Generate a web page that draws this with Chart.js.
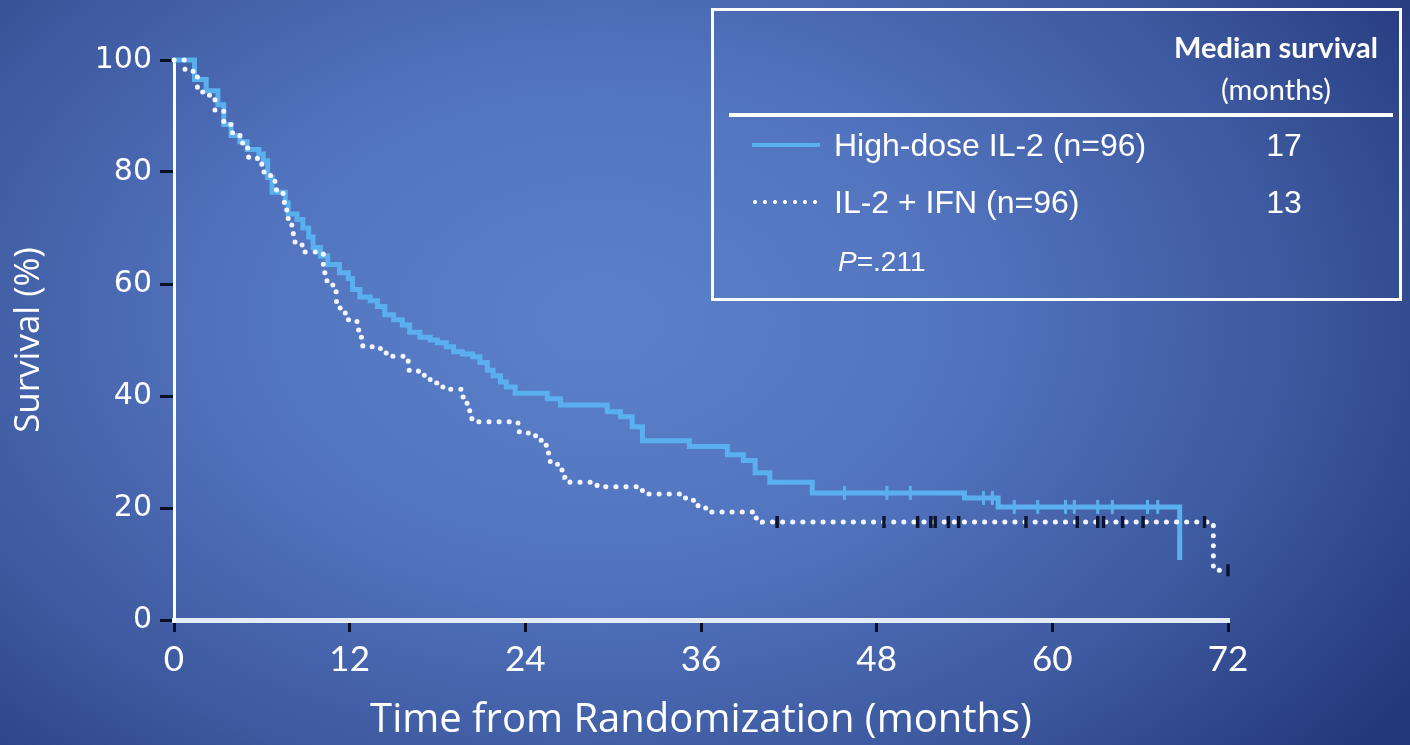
<!DOCTYPE html>
<html><head><meta charset="utf-8">
<script src="https://cdn.jsdelivr.net/npm/chart.js@4.4.1/dist/chart.umd.min.js"></script>
<style>
html,body{margin:0;padding:0;background:#2c4186;overflow:hidden}
#wrap{position:relative;width:1410px;height:745px}
#c{position:absolute;left:0;top:0}
.t{position:absolute;color:#fff;white-space:nowrap;font-family:"Liberation Sans",Arial,sans-serif;line-height:1}
.cc{transform:translate(-50%,-50%)}
.lc{transform:translate(0,-50%)}
#box{position:absolute;left:711px;top:8px;width:685px;height:287px;border:3px solid #fff}
#rule{position:absolute;left:729px;top:113px;width:664px;height:4px;background:#fff}
#s1{position:absolute;left:752px;top:143px;width:68px;height:4px;background:#5ab0ee}
#s2{position:absolute;left:750px;top:199px;width:72px;height:6px;background:radial-gradient(circle,#fff 1.7px,transparent 2.3px) 0 0/10px 6px repeat-x}
</style></head>
<body><div id="wrap">
<canvas id="c" width="1410" height="745"></canvas>
<div id="box"></div>
<div class="t cc" style="left:1276px;top:46px;font-family:Lato,sans-serif;font-weight:bold;font-size:29px">Median survival</div>
<div class="t cc" style="left:1276px;top:88px;font-family:Lato,sans-serif;font-size:29px">(months)</div>
<div id="rule"></div>
<div id="s1"></div>
<div class="t lc" style="left:834px;top:145px;font-size:32px">High-dose IL-2 (n=96)</div>
<div class="t cc" style="left:1284px;top:145px;font-size:32px">17</div>
<div id="s2"></div>
<div class="t lc" style="left:834px;top:202px;font-size:32px">IL-2 + IFN (n=96)</div>
<div class="t cc" style="left:1284px;top:202px;font-size:32px">13</div>
<div class="t lc" style="left:838px;top:262px;font-size:28px"><i>P</i>=.211</div>
</div>
<script>
// ---- data ----
const xTickLabels = [0, 12, 24, 36, 48, 60, 72];
const yTickLabels = [0, 20, 40, 60, 80, 100];
const hdTime = [0,1.4,2.2,3.0,3.4,3.9,4.5,5.0,5.8,6.1,6.4,6.7,7.6,7.8,8.4,8.8,9.2,9.5,10.0,10.5,11.3,11.9,12.2,12.7,13.4,13.9,14.4,15.0,15.6,16.1,16.8,17.5,18.0,18.6,19.1,19.7,20.4,20.9,21.4,21.8,22.3,22.7,23.3,25.5,26.4,29.6,30.5,31.3,32.0,35.2,37.8,38.9,39.7,40.7,43.6,54.0,56.3,68.7];
const hdSurv = [100,96.5,94.5,92,88.5,86.5,85.4,84,83.2,82,79,76.4,74.5,72.5,71.5,70,68.4,66.5,65,63.5,62,61,59,57.7,57,56,54.5,53.6,52.7,51.4,50.5,50,49.5,48.8,47.9,47.5,47,46,44.6,43.6,42.5,41.6,40.5,39.5,38.4,37.2,36.3,34.5,32,31,29.5,28.5,26.3,24.6,22.7,21.8,20.2,10.7];
const ifnTime = [0,0.75,1.6,2.3,2.8,3.4,4.0,4.5,5.0,5.1,5.7,6.0,6.6,6.9,7.0,7.45,7.7,7.8,8.05,8.15,8.75,10.2,10.45,10.85,11.1,11.35,11.7,12.5,12.8,12.9,14.1,14.6,16.0,16.7,17.1,17.5,18.0,18.5,19.7,19.9,20.2,20.35,23.5,24.2,24.8,25.2,25.5,25.7,26.2,26.7,27.05,28.9,31.6,32.0,34.8,35.45,35.8,36.4,39.7,40.2,71.0,72.0];
const ifnSurv = [100,98,94.3,93.7,91,88.5,86.6,85.2,84.3,82.5,81.6,80,79,78,76.3,74.6,72.9,71,69.3,67.5,65.7,62,60.2,58.6,56.8,55,53.6,51.8,50.5,48.8,47.7,47.1,44.6,44.1,43.2,42.3,41.6,41.2,39.8,38.7,37.1,35.4,33.6,32.9,32.1,31.2,29.8,28,26.8,25.5,24.6,23.8,23.2,22.5,21.8,21.4,20,19.3,18.2,17.5,8.9,8.9];
const hdCensor = [45.8,48.7,50.3,55.3,55.9,57.4,59.0,60.9,61.5,63.1,64.1,66.5,67.2];
const ifnCensor = [41.2,48.5,50.8,51.7,52.0,52.9,53.6,58.2,61.7,63.1,63.5,64.8,66.2,70.4,72.0];

function pts(t, s){ return t.map((x,i)=>({x:x,y:s[i]})); }
function survAt(t, s, x){ let v=s[0]; for(let i=0;i<t.length;i++){ if(t[i]<=x) v=s[i]; } return v; }
function censorPts(c, t, s){ return c.map(x=>({x:x,y:survAt(t,s,x)})); }

const bgPlugin = {id:'bg', beforeDraw(c){
  const ctx=c.ctx; ctx.save();
  ctx.translate(600,320); ctx.scale(1.45,1);
  const g=ctx.createRadialGradient(0,0,0,0,0,680);
  g.addColorStop(0,'#5b80c9'); g.addColorStop(0.35,'#5375c0'); g.addColorStop(0.7,'#3d599f'); g.addColorStop(1,'#24367a');
  ctx.fillStyle=g; ctx.fillRect(-600,-400,1200,900); ctx.restore();
}};

new Chart(document.getElementById('c'), {
  type:'line',
  data:{datasets:[
    {data:censorPts(ifnCensor,ifnTime,ifnSurv), showLine:false, pointStyle:'line', rotation:90, pointRadius:6, pointBorderWidth:3.5, borderColor:'#0c1430', backgroundColor:'#0c1430', order:0, clip:false},
    {data:pts(ifnTime,ifnSurv), stepped:'before', borderColor:'#f4f6ff', borderWidth:5, borderDash:[0.1,10], borderCapStyle:'round', pointRadius:0, fill:false, order:1, clip:false},
    {data:censorPts(hdCensor,hdTime,hdSurv), showLine:false, pointStyle:'line', rotation:90, pointRadius:7, pointBorderWidth:3, borderColor:'#5ab0ee', backgroundColor:'#5ab0ee', order:2, clip:false},
    {data:pts(hdTime,hdSurv), stepped:'before', borderColor:'#5ab0ee', borderWidth:5, pointRadius:0, fill:false, order:3, clip:false}
  ]},
  options:{
    responsive:false, animation:false, events:[],
    layout:{padding:{left:0,right:182,top:60,bottom:0}},
    plugins:{legend:{display:false}, tooltip:{enabled:false}},
    scales:{
      x:{type:'linear', min:0, max:72,
        afterBuildTicks(s){ s.ticks = xTickLabels.map(v=>({value:v})); },
        afterFit(s){ s.height = 125; },
        grid:{drawOnChartArea:false, drawTicks:true, tickLength:12, color:'#0a0f25', lineWidth:3},
        border:{color:'#e4ecfa', width:5},
        ticks:{color:'#fff', padding:7, font:{family:'Lato', size:35}},
        title:{display:true, text:'Time from Randomization (months)', color:'#fff', font:{family:'Open Sans', size:40}, padding:{top:0,bottom:0}}
      },
      y:{min:0, max:100,
        afterBuildTicks(s){ s.ticks = yTickLabels.map(v=>({value:v})); },
        afterFit(s){ s.width = 174; },
        grid:{drawOnChartArea:false, drawTicks:true, tickLength:14, color:'#0a0f25', lineWidth:3},
        border:{color:'#ffffff', width:3},
        ticks:{color:'#fff', padding:8, font:{family:'DejaVu Sans', size:30}},
        title:{display:true, text:'Survival (%)', color:'#fff', font:{family:'Open Sans', size:35}, padding:{top:8,bottom:0}}
      }
    }
  },
  plugins:[bgPlugin]
});
</script>
</body></html>
